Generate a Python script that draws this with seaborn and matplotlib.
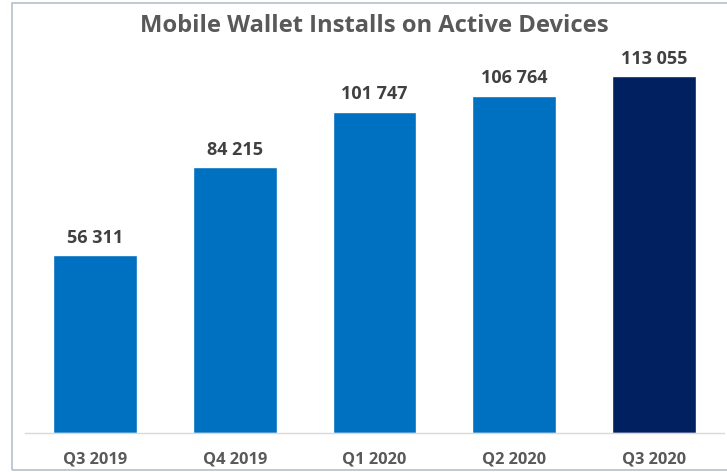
import matplotlib
matplotlib.use("Agg")
import matplotlib.pyplot as plt
import seaborn as sns
from matplotlib.patches import Rectangle

categories = ["Q3 2019", "Q4 2019", "Q1 2020", "Q2 2020", "Q3 2020"]
values = [56311, 84215, 101747, 106764, 113055]
bar_colors = ["#0070C0", "#0070C0", "#0070C0", "#0070C0", "#002060"]
title = "Mobile Wallet Installs on Active Devices"

sns.set_theme(style="white")
plt.rcParams["font.family"] = ["Open Sans", "DejaVu Sans"]

fig = plt.figure(figsize=(7.27, 4.72), dpi=100)
ax = fig.add_axes([25 / 727, 1 - 433 / 472, 699 / 727, 379 / 472])

sns.barplot(x=categories, y=values, hue=categories, palette=bar_colors,
            legend=False, width=0.6, ax=ax, saturation=1)

ax.set_ylim(0, 120000)
ax.set_xlim(-0.5, 4.5)
ax.set_yticks([])
ax.set_xlabel("")
ax.set_ylabel("")
for s in ["top", "right", "left"]:
    ax.spines[s].set_visible(False)
ax.spines["bottom"].set_color("#D9D9D9")
ax.spines["bottom"].set_linewidth(1.0)
ax.tick_params(axis="x", length=0, pad=13, labelsize=11.8, labelcolor="#595959")
for lbl in ax.get_xticklabels():
    lbl.set_fontweight("bold")

for cont in ax.containers:
    ax.bar_label(cont, labels=[f"{int(round(v)):,}".replace(",", " ") for v in cont.datavalues],
                 padding=6, fontsize=13, fontweight="bold", color="#404040")

fig.text(374 / 727, 1 - 26 / 472, title, ha="center", va="center",
         fontsize=17.1, fontweight="bold", color="#595959")

fig.patches.append(Rectangle((12 / 727, 2 / 472), 1.0, 467 / 472,
                             transform=fig.transFigure, fill=False,
                             edgecolor="#B4C0CC", linewidth=1.2))

fig.savefig("out.png", dpi=100)
